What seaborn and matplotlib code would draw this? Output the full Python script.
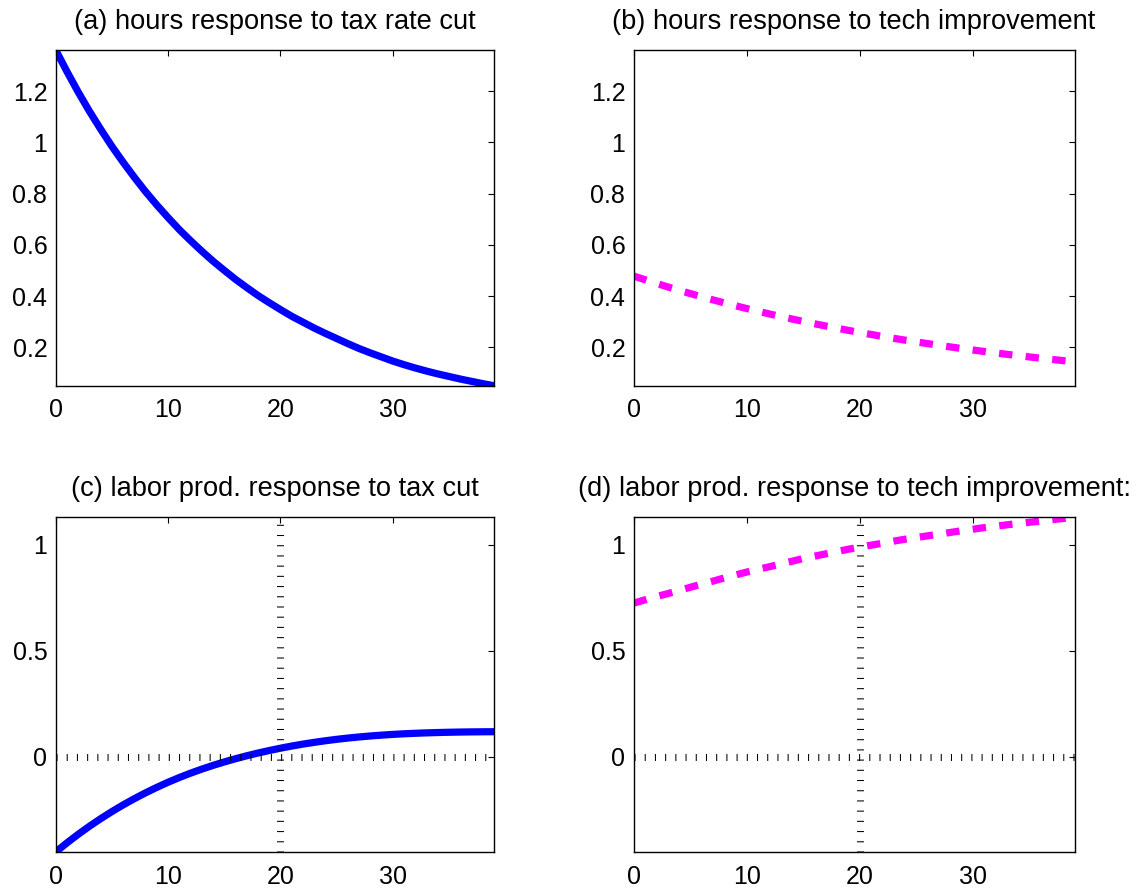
import matplotlib
matplotlib.use("Agg")
import matplotlib.pyplot as plt
from matplotlib.ticker import FuncFormatter
import seaborn as sns

# ---------------- data ----------------
periods = list(range(40))

hours_tax = [1.360, 1.276, 1.196, 1.121, 1.051, 0.984, 0.922, 0.863, 0.807, 0.755,
             0.706, 0.659, 0.616, 0.575, 0.536, 0.500, 0.465, 0.433, 0.402, 0.374,
             0.347, 0.321, 0.298, 0.275, 0.254, 0.234, 0.214, 0.195, 0.178, 0.162,
             0.146, 0.132, 0.119, 0.107, 0.096, 0.086, 0.076, 0.067, 0.058, 0.050]

hours_tech = [0.478, 0.4635, 0.4494, 0.4357, 0.4225, 0.4097, 0.3972, 0.3851, 0.3734, 0.3621,
              0.3511, 0.3404, 0.3301, 0.3200, 0.3103, 0.3009, 0.2917, 0.2829, 0.2743, 0.2659,
              0.2578, 0.2500, 0.2424, 0.2350, 0.2279, 0.2210, 0.2143, 0.2077, 0.2014, 0.1953,
              0.1894, 0.1836, 0.1780, 0.1726, 0.1674, 0.1623, 0.1574, 0.1526, 0.1479, 0.1434]

prod_tax = [-0.450, -0.407, -0.3665, -0.3285, -0.2927, -0.2591, -0.2276, -0.1981, -0.1705, -0.1447,
            -0.1206, -0.0983, -0.0777, -0.0586, -0.0410, -0.0247, -0.0096, 0.0044, 0.0173, 0.0292,
            0.0402, 0.0503, 0.0595, 0.0678, 0.0753, 0.0821, 0.0881, 0.0933, 0.0979, 0.1019,
            0.1053, 0.1082, 0.1106, 0.1126, 0.1142, 0.1155, 0.1165, 0.1172, 0.1177, 0.1180]

prod_tech = [0.725, 0.741, 0.756, 0.770, 0.785, 0.800, 0.815, 0.829, 0.844, 0.858,
             0.872, 0.885, 0.897, 0.910, 0.923, 0.936, 0.947, 0.958, 0.969, 0.980,
             0.990, 0.999, 1.008, 1.018, 1.027, 1.035, 1.043, 1.051, 1.059, 1.067,
             1.074, 1.082, 1.088, 1.095, 1.101, 1.107, 1.113, 1.119, 1.125, 1.132]

titles = ["(a) hours response to tax rate cut",
          "(b) hours response to tech improvement",
          "(c) labor prod. response to tax cut",
          "(d) labor prod. response to tech improvement:"]

x_ticks = [0, 10, 20, 30]
hours_yticks = [0.2, 0.4, 0.6, 0.8, 1.0, 1.2]
prod_yticks = [0, 0.5, 1]
ref_period = 20
ref_level = 0

# ---------------- styling ----------------
sns.set_style("white")
plt.rcParams['font.family'] = ['Liberation Sans', 'DejaVu Sans']

W, H = 1138, 893
fig = plt.figure(figsize=(W / 100, H / 100), dpi=100)

def px_axes(left, top, right, bottom):
    return fig.add_axes([left / W, 1 - bottom / H, (right - left) / W, (bottom - top) / H])

ax_a = px_axes(55.7, 50, 494, 385.7)
ax_b = px_axes(633.7, 50, 1074.5, 385.7)
ax_c = px_axes(55.7, 517, 494, 852)
ax_d = px_axes(633.7, 517, 1074.5, 852)

blue = "#0000FF"
magenta = "#FF00FF"
lw = 5.2
dash_style = (0, (1.85, 1.85))
ref_style = (0, (0.15, 1.32))

sns.lineplot(x=periods, y=hours_tax, ax=ax_a, color=blue, linewidth=lw,
             solid_capstyle='butt')
sns.lineplot(x=periods, y=hours_tech, ax=ax_b, color=magenta, linewidth=lw,
             linestyle=dash_style, dash_capstyle='butt')
sns.lineplot(x=periods, y=prod_tax, ax=ax_c, color=blue, linewidth=lw,
             solid_capstyle='butt')
sns.lineplot(x=periods, y=prod_tech, ax=ax_d, color=magenta, linewidth=lw,
             linestyle=dash_style, dash_capstyle='butt')

for ax in (ax_c, ax_d):
    ax.axhline(ref_level, color='black', linewidth=5, linestyle=ref_style,
               dash_capstyle='butt', zorder=3)
    ax.axvline(ref_period, color='black', linewidth=5, linestyle=ref_style,
               dash_capstyle='butt', zorder=3)

hours_lim = (min(hours_tax + hours_tech), max(hours_tax + hours_tech))
prod_lim = (min(prod_tax + prod_tech), max(prod_tax + prod_tech))

fmt = FuncFormatter(lambda v, p: f"{v:g}")

for ax, title in zip((ax_a, ax_b, ax_c, ax_d), titles):
    ax.set_xlim(periods[0], periods[-1])
    ax.set_xticks(x_ticks)
    ax.xaxis.set_major_formatter(fmt)
    ax.yaxis.set_major_formatter(fmt)
    ax.set_xlabel("")
    ax.set_ylabel("")
    ax.set_title(title, fontsize=19.6, pad=15, color='black')
    ax.tick_params(axis='both', which='both', direction='in', top=True, right=True,
                   length=4, width=0.8, color='black', labelsize=18, labelcolor='black')
    ax.tick_params(axis='x', pad=9)
    ax.tick_params(axis='y', pad=6)
    for s in ax.spines.values():
        s.set_visible(True)
        s.set_color('black')
        s.set_linewidth(1.0)
    ax.set_facecolor('white')
    ax.grid(False)

for ax in (ax_a, ax_b):
    ax.set_ylim(*hours_lim)
    ax.set_yticks(hours_yticks)
for ax in (ax_c, ax_d):
    ax.set_ylim(*prod_lim)
    ax.set_yticks(prod_yticks)

fig.savefig("out.png", dpi=100, facecolor='white')
